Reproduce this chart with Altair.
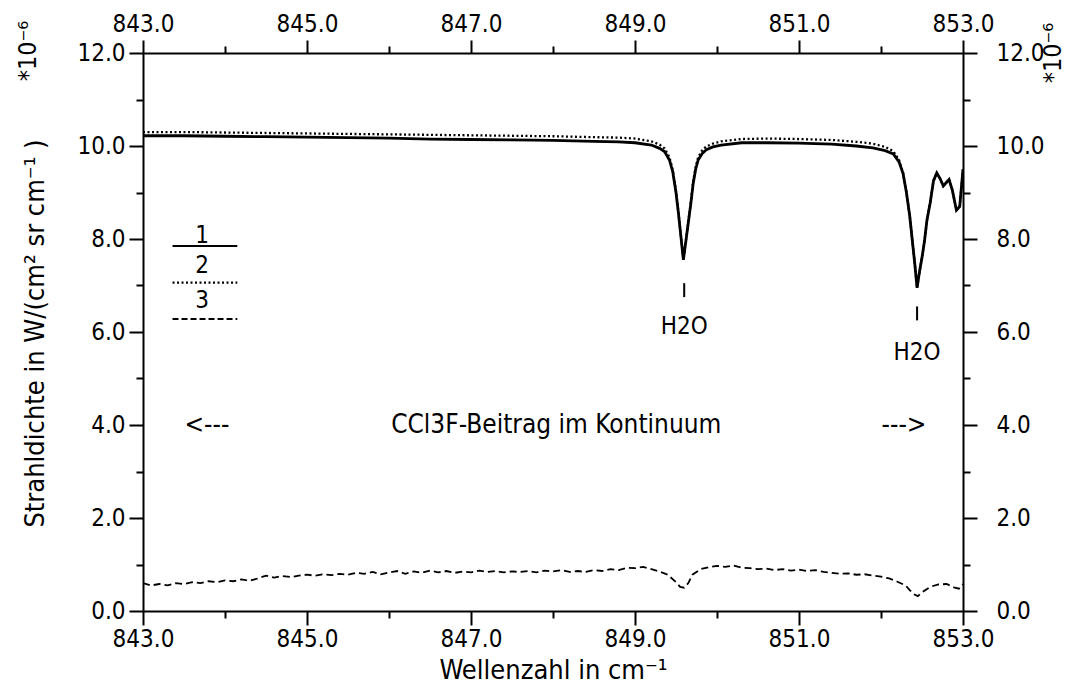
import altair as alt
import pandas as pd

FONT = "Liberation Sans Narrow, DejaVu Sans Condensed, Liberation Sans, sans-serif"

# Wavenumber grid (cm^-1) for the two radiance spectra, radiance in 1e-6 W/(cm2 sr cm-1)
wn_main = [843.0, 843.5, 844.0, 844.5, 845.0, 845.5, 846.0, 846.5, 847.0, 847.5,
           848.0, 848.5, 848.8, 849.0, 849.2, 849.3, 849.36, 849.42, 849.46, 849.5,
           849.53, 849.56, 849.59, 849.62, 849.65, 849.68, 849.71, 849.74, 849.77, 849.82,
           849.87, 849.95, 850.05, 850.3, 850.6, 851.0, 851.4, 851.7, 851.9, 852.05,
           852.15, 852.22, 852.27, 852.31, 852.35, 852.38, 852.41, 852.44, 852.47, 852.5,
           852.53, 852.56, 852.6, 852.64, 852.68, 852.72, 852.76, 852.8, 852.83, 852.87,
           852.92, 852.96, 853.0]
rad_1 = [10.22, 10.22, 10.21, 10.20, 10.19, 10.18, 10.17, 10.15, 10.14, 10.13,
         10.12, 10.10, 10.09, 10.07, 10.02, 9.95, 9.88, 9.70, 9.45, 9.00,
         8.55, 8.05, 7.55, 7.95, 8.35, 8.75, 9.20, 9.50, 9.70, 9.84,
         9.92, 9.98, 10.02, 10.07, 10.07, 10.06, 10.04, 10.00, 9.96, 9.90,
         9.83, 9.66, 9.40, 9.00, 8.50, 8.00, 7.50, 6.95, 7.30, 7.60,
         7.95, 8.40, 8.78, 9.25, 9.42, 9.30, 9.14, 9.22, 9.28, 9.05,
         8.62, 8.70, 9.50]
rad_2 = [10.30, 10.30, 10.29, 10.28, 10.27, 10.26, 10.25, 10.24, 10.23, 10.22,
         10.21, 10.19, 10.18, 10.16, 10.10, 10.03, 9.95, 9.76, 9.49, 9.03,
         8.57, 8.06, 7.56, 7.96, 8.37, 8.78, 9.24, 9.55, 9.76, 9.91,
         9.99, 10.05, 10.10, 10.15, 10.16, 10.15, 10.13, 10.09, 10.05, 9.98,
         9.89, 9.70, 9.42, 9.01, 8.51, 8.00, 7.50, 6.95, 7.30, 7.60,
         7.95, 8.40, 8.78, 9.25, 9.42, 9.30, 9.14, 9.22, 9.28, 9.05,
         8.62, 8.70, 9.50]

# CCl3F contribution (dashed curve)
wn_3 = [843.0, 843.1, 843.2, 843.3, 843.4, 843.5, 843.6, 843.7, 843.8, 843.9,
        844.0, 844.1, 844.2, 844.3, 844.4, 844.5, 844.6, 844.7, 844.8, 844.9,
        845.0, 845.1, 845.2, 845.3, 845.4, 845.5, 845.6, 845.7, 845.8, 845.9,
        846.0, 846.1, 846.2, 846.3, 846.4, 846.5, 846.6, 846.7, 846.8, 846.9,
        847.0, 847.1, 847.2, 847.3, 847.4, 847.5, 847.6, 847.7, 847.8, 847.9,
        848.0, 848.1, 848.2, 848.3, 848.4, 848.5, 848.6, 848.7, 848.8, 848.9,
        849.0, 849.1, 849.2, 849.3, 849.4, 849.5, 849.55, 849.6, 849.65, 849.7,
        849.8, 849.9, 850.0, 850.1, 850.2, 850.3, 850.4, 850.5, 850.6, 850.7,
        850.8, 850.9, 851.0, 851.1, 851.2, 851.3, 851.4, 851.5, 851.6, 851.7,
        851.8, 851.9, 852.0, 852.1, 852.2, 852.3, 852.35, 852.4, 852.45, 852.5,
        852.6, 852.7, 852.8, 852.9, 852.95, 853.0]
rad_3 = [0.60, 0.55, 0.58, 0.55, 0.60, 0.58, 0.62, 0.60, 0.64, 0.62,
         0.66, 0.64, 0.68, 0.65, 0.70, 0.76, 0.72, 0.75, 0.73, 0.76,
         0.78, 0.76, 0.79, 0.77, 0.80, 0.78, 0.82, 0.80, 0.84, 0.79,
         0.83, 0.86, 0.80, 0.85, 0.82, 0.87, 0.83, 0.86, 0.82, 0.85,
         0.83, 0.87, 0.84, 0.86, 0.83, 0.85, 0.84, 0.86, 0.83, 0.87,
         0.85, 0.88, 0.84, 0.86, 0.84, 0.88, 0.86, 0.90, 0.88, 0.93,
         0.92, 0.95, 0.90, 0.85, 0.78, 0.62, 0.52, 0.50, 0.60, 0.78,
         0.90, 0.94, 0.97, 0.95, 0.98, 0.93, 0.92, 0.90, 0.91, 0.88,
         0.90, 0.87, 0.89, 0.86, 0.88, 0.84, 0.82, 0.80, 0.81, 0.78,
         0.79, 0.76, 0.74, 0.70, 0.63, 0.55, 0.45, 0.36, 0.32, 0.40,
         0.52, 0.57, 0.58, 0.50, 0.48, 0.58]

# Axis ticks
x_major = [843, 845, 847, 849, 851, 853]
x_minor = [844, 846, 848, 850, 852]
y_major = [0, 2, 4, 6, 8, 10, 12]
y_minor = [1, 3, 5, 7, 9, 11]

# Legend key: curve number, line position
key_num = ["1", "2", "3"]
key_y = [7.85, 7.06, 6.28]
key_label_y = [8.07, 7.43, 6.66]
key_x0, key_x1, key_label_x = 843.36, 844.15, 843.72

# Annotations inside the plot
note_text = ["<---", "CCl3F-Beitrag im Kontinuum", "--->"]
note_x = [843.78, 848.04, 852.28]
note_y = [4.0, 4.0, 4.0]
h2o_text = ["H2O", "H2O"]
h2o_x = [849.6, 852.44]
h2o_y = [6.1, 5.55]
mark_y0 = [6.75, 6.25]
mark_y1 = [7.05, 6.55]

df1 = pd.DataFrame({"wn": wn_main, "rad": rad_1})
df2 = pd.DataFrame({"wn": wn_main, "rad": rad_2})
df3 = pd.DataFrame({"wn": wn_3, "rad": rad_3})

xs = alt.Scale(domain=[843, 853], nice=False, zero=False)
ys = alt.Scale(domain=[0, 12], nice=False, zero=True)

common = dict(domainColor="black", domainWidth=2, tickColor="black", tickWidth=2,
              labelFont=FONT, labelFontSize=24, labelColor="black",
              titleFont=FONT, titleFontSize=27, titleColor="black", titleFontWeight="normal",
              grid=False, labelOverlap=False, labelFlush=False)
minor = dict(domain=False, labels=False, tickColor="black", tickWidth=2, grid=False, title=None)

x_bottom = alt.X("wn:Q", scale=xs, axis=alt.Axis(
    orient="bottom", values=x_major, tickSize=14, labelPadding=2,
    labelExpr="format(datum.value, '.1f')", title="Wellenzahl in cm⁻¹",
    titleY=59, titleBaseline="middle", **common))
y_left = alt.Y("rad:Q", scale=ys, axis=alt.Axis(
    orient="left", values=y_major, tickSize=14, labelPadding=4,
    labelExpr="format(datum.value, '.1f')", title="Strahldichte in W/(cm² sr cm⁻¹ )",
    titleX=-108, titleY=280, titleAngle=270, titleAlign="center", titleBaseline="middle",
    **common))
x_top = alt.X("wn:Q", scale=xs, axis=alt.Axis(
    orient="top", values=x_major, tickSize=13, labelPadding=4,
    labelExpr="format(datum.value, '.1f')", title=None, **common))
y_right = alt.Y("rad:Q", scale=ys, axis=alt.Axis(
    orient="right", values=y_major, tickSize=14, labelPadding=19,
    labelExpr="format(datum.value, '.1f')", title=None, **common))

line1 = alt.Chart(df1).mark_line(color="black", strokeWidth=2.8, clip=True).encode(
    x=x_bottom, y=y_left)
line2 = alt.Chart(df2).mark_line(color="black", strokeWidth=2.3, strokeDash=[2, 2.5], clip=True).encode(
    x=x_top, y=y_right)
line3 = alt.Chart(df3).mark_line(color="black", strokeWidth=1.8, strokeDash=[7, 4], clip=True).encode(
    x=alt.X("wn:Q", scale=xs, axis=alt.Axis(orient="bottom", values=x_minor, tickSize=7, **minor)),
    y=alt.Y("rad:Q", scale=ys, axis=alt.Axis(orient="left", values=y_minor, tickSize=7, **minor)))

df_key = pd.DataFrame({"num": key_num, "y": key_y, "ly": key_label_y,
                       "x0": [key_x0] * 3, "x1": [key_x1] * 3, "lx": [key_label_x] * 3})
key_base = alt.Chart(df_key)
key1 = key_base.transform_filter("datum.num == '1'").mark_rule(color="black", strokeWidth=2.2).encode(
    x=alt.X("x0:Q", scale=xs, axis=alt.Axis(orient="top", values=x_minor, tickSize=7, **minor)),
    x2="x1:Q",
    y=alt.Y("y:Q", scale=ys, axis=alt.Axis(orient="right", values=y_minor, tickSize=7, **minor)))
key2 = key_base.transform_filter("datum.num == '2'").mark_rule(
    color="black", strokeWidth=2.2, strokeDash=[2, 2.5]).encode(
    x=alt.X("x0:Q", scale=xs, axis=None), x2="x1:Q", y=alt.Y("y:Q", scale=ys, axis=None))
key3 = key_base.transform_filter("datum.num == '3'").mark_rule(
    color="black", strokeWidth=1.8, strokeDash=[6, 3]).encode(
    x=alt.X("x0:Q", scale=xs, axis=None), x2="x1:Q", y=alt.Y("y:Q", scale=ys, axis=None))
key_text = key_base.mark_text(font=FONT, fontSize=24, color="black", baseline="middle").encode(
    x=alt.X("lx:Q", scale=xs, axis=None), y=alt.Y("ly:Q", scale=ys, axis=None), text="num:N")

df_note = pd.DataFrame({"t": note_text, "x": note_x, "y": note_y})
notes = alt.Chart(df_note).mark_text(font=FONT, fontSize=26, color="black", baseline="middle").encode(
    x=alt.X("x:Q", scale=xs, axis=None), y=alt.Y("y:Q", scale=ys, axis=None), text="t:N")

df_h2o = pd.DataFrame({"t": h2o_text, "x": h2o_x, "y": h2o_y, "y0": mark_y0, "y1": mark_y1})
h2o = alt.Chart(df_h2o).mark_text(font=FONT, fontSize=24, color="black", baseline="middle").encode(
    x=alt.X("x:Q", scale=xs, axis=None), y=alt.Y("y:Q", scale=ys, axis=None), text="t:N")
h2o_marks = alt.Chart(df_h2o).mark_rule(color="black", strokeWidth=2).encode(
    x=alt.X("x:Q", scale=xs, axis=None), y=alt.Y("y0:Q", scale=ys, axis=None), y2="y1:Q")

df_exp = pd.DataFrame({"t": ["*10⁻⁶"]})
exp_left = alt.Chart(df_exp).mark_text(font=FONT, fontSize=25, color="black", angle=270,
                                       align="center", baseline="middle").encode(
    text="t:N", x=alt.value(-115), y=alt.value(-2))
exp_right = alt.Chart(df_exp).mark_text(font=FONT, fontSize=25, color="black", angle=270,
                                        align="center", baseline="middle").encode(
    text="t:N", x=alt.value(910), y=alt.value(0))

chart = alt.layer(
    line3, line2, line1, key1, key2, key3, key_text, notes, h2o, h2o_marks, exp_left, exp_right
).resolve_axis(x="independent", y="independent").properties(
    width=820, height=558,
    autosize=alt.AutoSizeParams(type="none"),
    padding={"left": 143, "top": 53, "right": 110, "bottom": 82},
    background="white",
).configure_view(stroke=None)

chart.save("out.html", embed_options={"renderer": "svg", "actions": False})
